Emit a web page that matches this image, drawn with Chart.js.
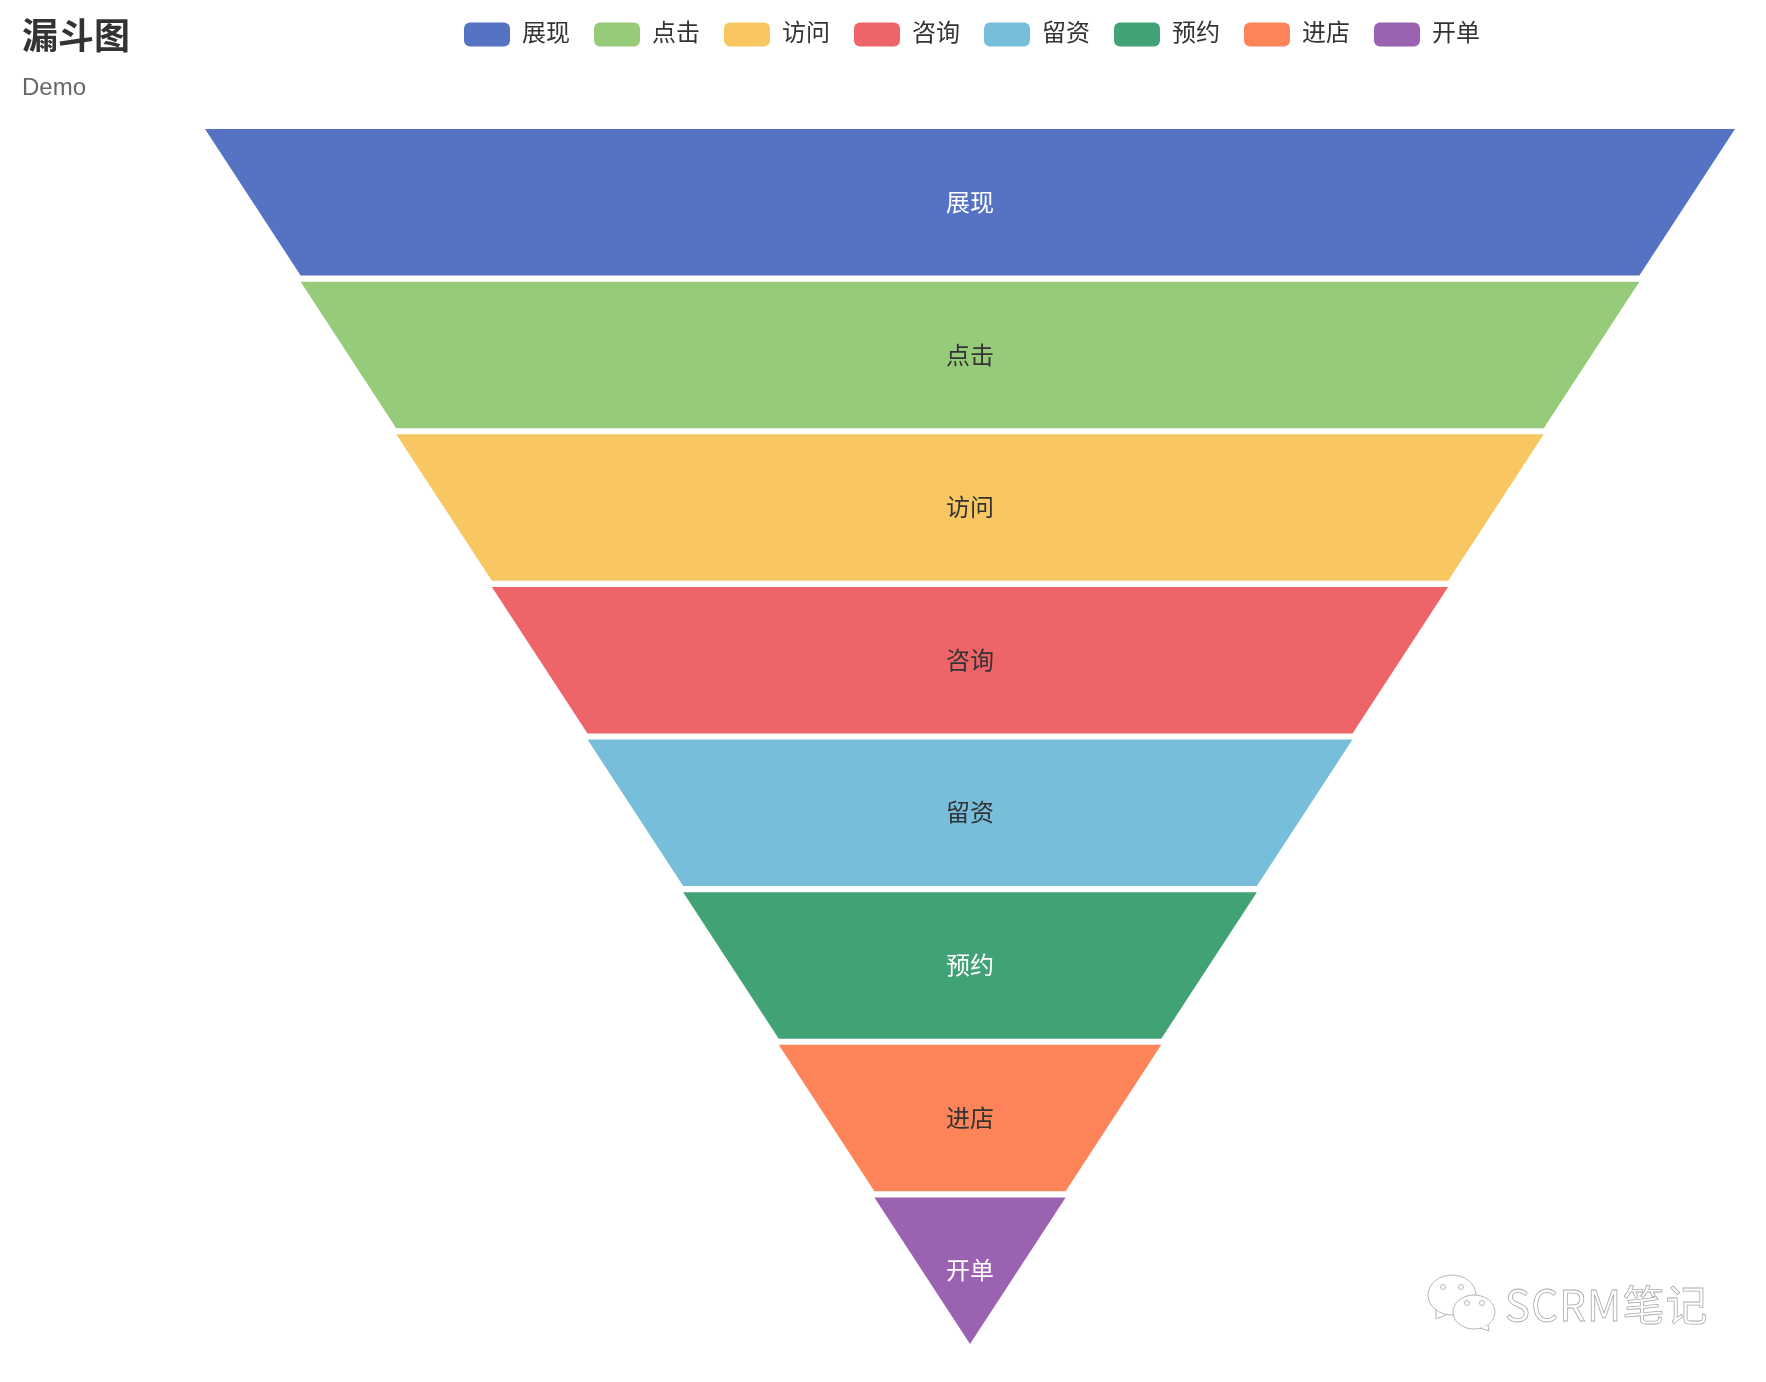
<!DOCTYPE html>
<html>
<head>
<meta charset="utf-8">
<title>漏斗图</title>
<style>
  html, body { margin: 0; padding: 0; background: #fff; }
  #wrap { width: 1766px; height: 1382px; }
</style>
<script src="https://cdn.jsdelivr.net/npm/chart.js@4"></script>
</head>
<body>
<div id="wrap"><canvas id="chart1"></canvas></div>
<script>
const categories = ['展现', '点击', '访问', '咨询', '留资', '预约', '进店', '开单'];
const seriesValues = [100, 87.5, 75, 62.5, 50, 37.5, 25, 12.5];
const barColors = ['#5572c3', '#96cc79', '#f8c762', '#ee6569', '#77bedb', '#41a275', '#fd8359', '#9b62b2'];
const labelColors = ['#fff', '#333', '#333', '#333', '#333', '#fff', '#333', '#fff'];
const titleText = '漏斗图';
const subtitleText = 'Demo';
const watermarkText = 'SCRM笔记';

const fontFamily = '"Liberation Sans", "Noto Sans CJK SC", sans-serif';
Chart.defaults.font.family = fontFamily;
Chart.defaults.color = '#333';

// no funnel type in chart.js, so keep the bars for the layout and paint them as trapezoids
const funnelBars = {
  id: 'funnelBars',
  afterLayout(chart) {
    // legend row counts its trailing padding, nudge it back to the funnel centre
    chart.legend.left += 2;
    chart.legend.right += 2;
  },
  beforeDatasetDraw(chart, args) {
    const ctx = chart.ctx;
    const xs = chart.scales.x;
    args.meta.data.forEach((el, i) => {
      const top = el.y - el.height / 2;
      const bottom = el.y + el.height / 2;
      const half = seriesValues[i] / 2;
      const nextHalf = (seriesValues[i + 1] || 0) / 2;
      ctx.save();
      ctx.fillStyle = barColors[i];
      ctx.beginPath();
      ctx.moveTo(xs.getPixelForValue(-half), top);
      ctx.lineTo(xs.getPixelForValue(half), top);
      ctx.lineTo(xs.getPixelForValue(nextHalf), bottom);
      ctx.lineTo(xs.getPixelForValue(-nextHalf), bottom);
      ctx.closePath();
      ctx.fill();
      ctx.restore();
    });
    return false;
  },
  afterDatasetsDraw(chart) {
    const ctx = chart.ctx;
    const xs = chart.scales.x;
    chart.getDatasetMeta(0).data.forEach((el, i) => {
      ctx.save();
      ctx.font = '24px ' + fontFamily;
      ctx.fillStyle = labelColors[i];
      ctx.textAlign = 'center';
      ctx.textBaseline = 'middle';
      ctx.fillText(categories[i], xs.getPixelForValue(0), el.y + 2);
      ctx.restore();
    });
  }
};

// the faint wechat mark in the bottom right corner
const watermark = {
  id: 'watermark',
  afterDraw(chart) {
    const ctx = chart.ctx;
    ctx.save();
    ctx.strokeStyle = '#b4b8b4';
    ctx.fillStyle = '#fff';
    ctx.lineWidth = 1;

    ctx.beginPath();
    ctx.ellipse(1452, 1295, 24, 20, 0, 0, Math.PI * 2);
    ctx.moveTo(1436, 1310);
    ctx.lineTo(1436, 1319);
    ctx.lineTo(1448, 1314);
    ctx.fill();
    ctx.stroke();

    ctx.beginPath();
    ctx.ellipse(1474, 1312, 21, 17, 0, 0, Math.PI * 2);
    ctx.fill();
    ctx.stroke();
    ctx.beginPath();
    ctx.moveTo(1480, 1328);
    ctx.lineTo(1489, 1331);
    ctx.lineTo(1488, 1325);
    ctx.fill();
    ctx.stroke();

    [[1443, 1287], [1461, 1287], [1467, 1303], [1482, 1303]].forEach(p => {
      ctx.beginPath();
      ctx.arc(p[0], p[1], 2.5, 0, Math.PI * 2);
      ctx.stroke();
    });

    ctx.font = '42px "Noto Sans CJK SC", sans-serif';
    ctx.letterSpacing = '1.2px';
    ctx.textBaseline = 'alphabetic';
    ctx.fillStyle = '#fff';
    ctx.strokeStyle = '#a8aca8';
    ctx.lineWidth = 0.8;
    ctx.fillText(watermarkText, 1505, 1321);
    ctx.strokeText(watermarkText, 1505, 1321);
    ctx.restore();
  }
};

new Chart('chart1', {
  type: 'bar',
  data: {
    labels: categories,
    datasets: [{
      data: seriesValues.map(v => [-v / 2, v / 2]),
      backgroundColor: barColors,
      categoryPercentage: 1,
      barPercentage: 0.96
    }]
  },
  options: {
    indexAxis: 'y',
    responsive: true,
    maintainAspectRatio: false,
    animation: false,
    layout: { padding: { left: 22, right: 31, top: -1.5, bottom: 35 } },
    scales: {
      x: {
        position: 'top',
        min: -50,
        max: 50,
        grid: { display: false },
        border: { display: false },
        ticks: { display: false },
        afterFit(scale) { scale.height = 69.5; }
      },
      y: {
        grid: { display: false },
        border: { display: false },
        ticks: { display: false },
        afterFit(scale) { scale.width = 183; }
      }
    },
    plugins: {
      title: {
        display: true,
        text: titleText,
        align: 'start',
        color: '#333',
        font: { size: 36, weight: 'bold' },
        padding: { top: 18.5, bottom: -61.7 }
      },
      subtitle: {
        display: true,
        text: subtitleText,
        align: 'start',
        color: '#666',
        font: { size: 24, weight: 'normal' },
        padding: { top: 75.5, bottom: -104.3 }
      },
      legend: {
        position: 'top',
        fullSize: false,
        labels: {
          boxWidth: 46,
          boxHeight: 24,
          padding: 24,
          color: '#333',
          font: { size: 24 },
          useBorderRadius: true,
          borderRadius: 6,
          generateLabels() {
            return categories.map((name, i) => ({
              text: name,
              fillStyle: barColors[i],
              strokeStyle: barColors[i],
              fontColor: '#333',
              lineWidth: 0,
              index: i,
              borderRadius: 6
            }));
          }
        }
      },
      tooltip: { enabled: false }
    }
  },
  plugins: [funnelBars, watermark]
});
</script>
</body>
</html>
